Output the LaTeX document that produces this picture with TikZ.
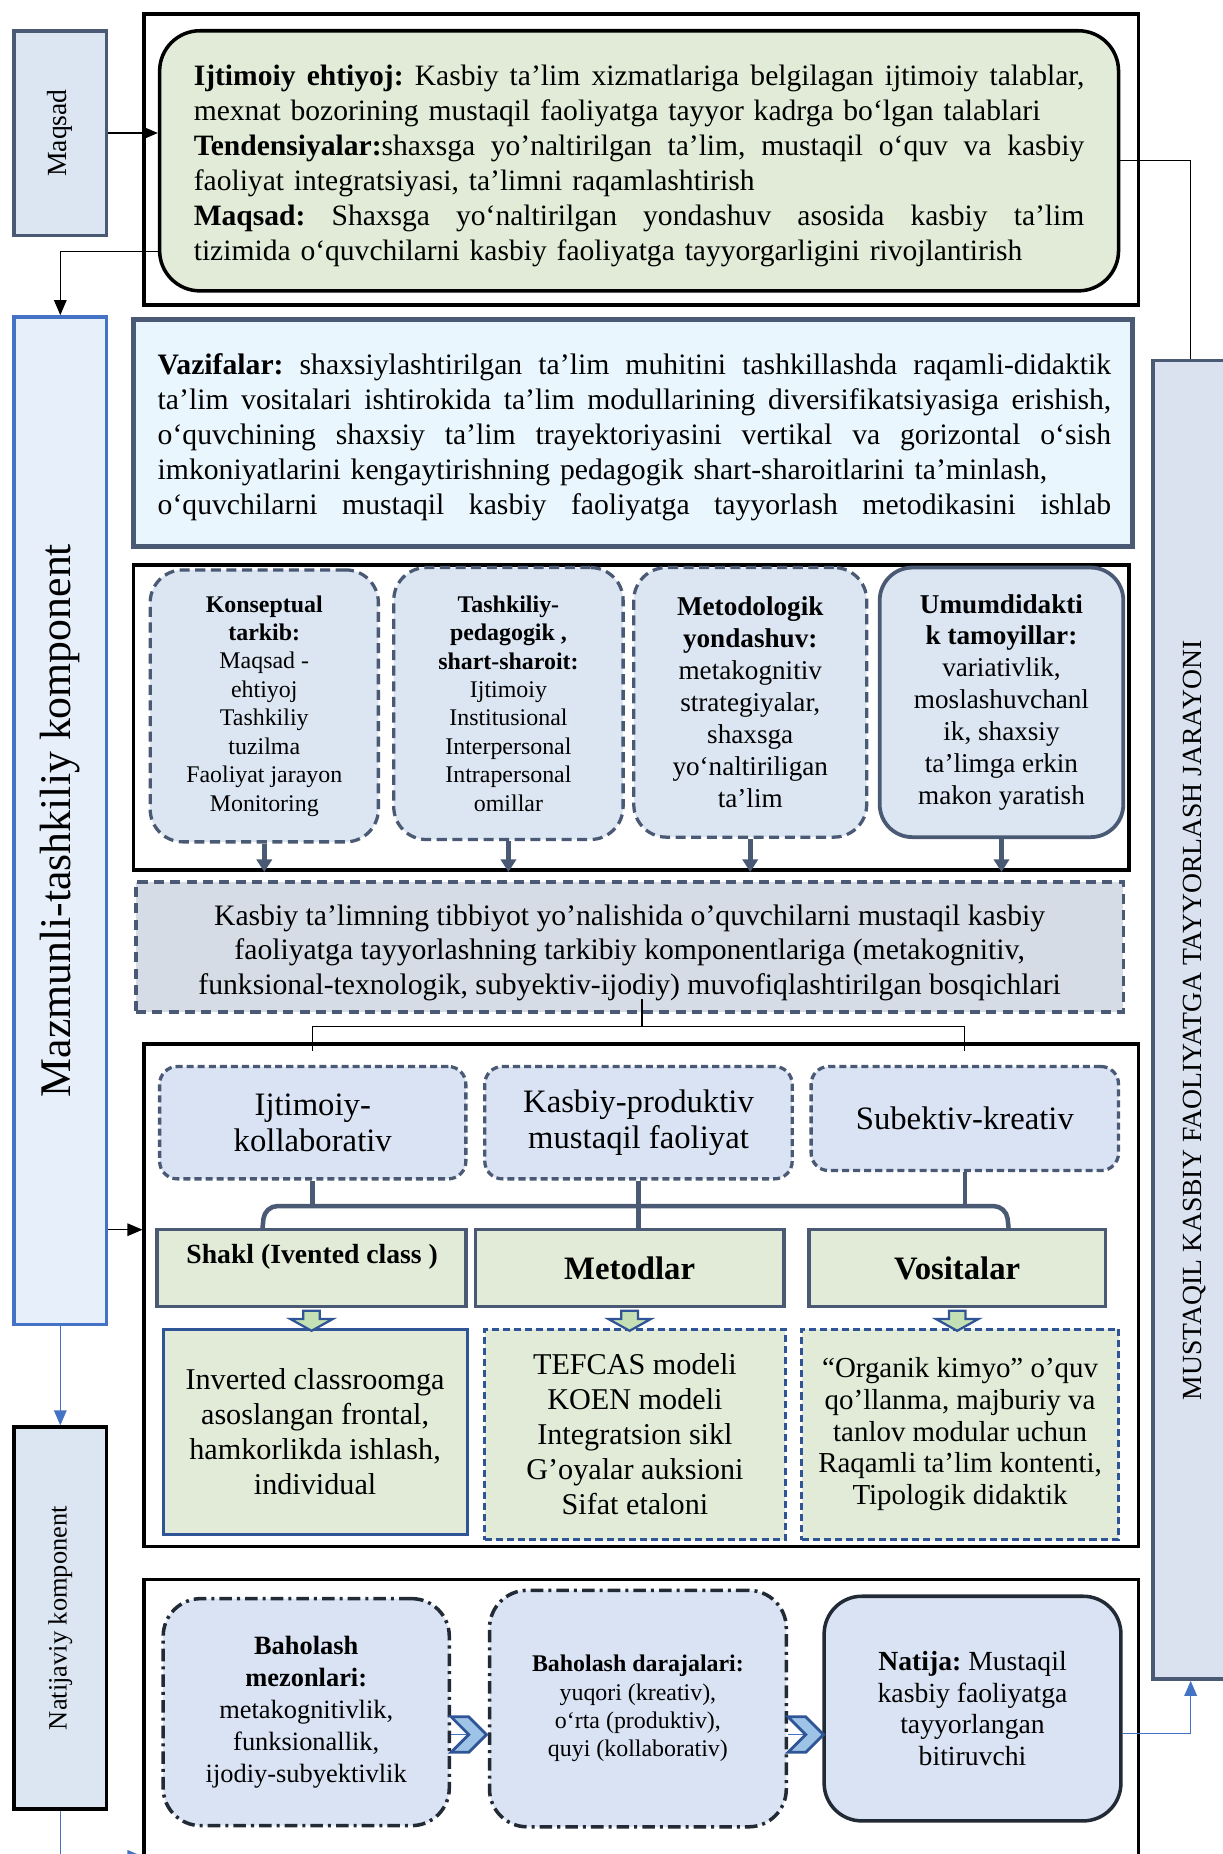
\documentclass[tikz,border=0pt]{standalone}
\usepackage{fontspec}
\setmainfont{Liberation Serif}
\usetikzlibrary{fit,calc,arrows.meta}
\definecolor{slate}{HTML}{4A5A74}
\definecolor{lightblue}{HTML}{DCE6F2}
\definecolor{mazfill}{HTML}{E7EFFB}
\definecolor{mazblue}{HTML}{4472C4}
\definecolor{musfill}{HTML}{DAE2F0}
\definecolor{vazfill}{HTML}{EAF6FD}
\definecolor{grayfill}{HTML}{D6DCE5}
\definecolor{rowfill}{HTML}{DAE3F3}
\definecolor{greenfill}{HTML}{E2EBD7}
\definecolor{dblue}{HTML}{2F5597}
\definecolor{dark}{HTML}{222A35}
\definecolor{arrowgreen}{HTML}{C5E0B4}
\definecolor{chevfill}{HTML}{9DC3E6}
\frenchspacing
\newcommand\setfs[2]{\fontsize{#1}{#2}\selectfont}
\newcommand\jl[2]{\leavevmode\hbox to #1{\spaceskip=0.25em plus 1fil\xspaceskip=0.25em plus 1fil\relax #2}}
\newcommand\darr[1]{\filldraw[barrow] (#1) ++(-7,2) -- ++(0,7) -- ++(-11,0) -- ++(18,10) -- ++(18,-10) -- ++(-11,0) -- ++(0,-7) -- cycle;}
\newcommand\chev[1]{\filldraw[chevron] (#1) ++(0,-15) -- ++(15,0) -- ++(15,15) -- ++(-15,15) -- ++(-15,0) -- ++(15,-15) -- cycle;}
\begin{document}
\begin{tikzpicture}[x=0.47pt,y=-0.47pt,
  outerbox/.style={draw=black,line width=1.4pt,inner sep=0pt},
  sidebox/.style={draw=slate,line width=1.4pt,fill=lightblue,inner sep=0pt},
  compbox/.style={draw=slate,line width=1.3pt,dash pattern=on 4pt off 2.2pt,fill=lightblue,rounded corners=13pt,inner sep=0pt},
  rowbox/.style={draw=slate,line width=1.3pt,dash pattern=on 2.8pt off 1.6pt,fill=rowfill,rounded corners=7pt,inner sep=0pt},
  formbox/.style={draw=slate,line width=1.4pt,fill=greenfill,inner sep=0pt},
  contbox/.style={draw=dblue,line width=1.2pt,dash pattern=on 2.8pt off 1.6pt,fill=greenfill,inner sep=0pt},
  evalbox/.style={draw=dark,line width=1.4pt,dash pattern=on 5pt off 2pt on 1.2pt off 2pt,fill=rowfill,rounded corners=15pt,inner sep=0pt},
  txt/.style={inner sep=0pt,align=center},
  stub/.style={draw=slate,line width=1.8pt,-{Triangle[length=5pt,width=6pt]}},
  bar/.style={draw=slate,line width=1.8pt},
  blk/.style={line width=0.5pt,-{Triangle[length=6pt,width=5pt]}},
  bluearr/.style={draw=mazblue,line width=0.6pt,-{Triangle[length=6pt,width=5pt]}},
  thinline/.style={line width=0.5pt},
  barrow/.style={draw=dblue,fill=arrowgreen,line width=0.9pt},
  chevron/.style={draw=dblue,fill=chevfill,line width=1.1pt}]
\useasboundingbox (0,0) rectangle (1034,1568);
\node[outerbox,fit={(122,12)(963,258)}] (f1) {};
\node[outerbox,fit={(113,478)(955,736)}] (f2) {};
\node[outerbox,fit={(122,883)(963,1308)}] (f3) {};
\node[outerbox,fit={(122,1336)(963,1572)}] (f4) {};
\node[sidebox,fit={(12,26)(90,199)}] (maq) {};
\node[rotate=90,font=\setfs{11}{13}] (maqt) at (maq) {Maqsad};
\node[sidebox,draw=mazblue,fill=mazfill,fit={(12,268)(90,1120)}] (maz) {};
\node[rotate=90,font=\setfs{17.4}{20}] (mazt) at (maz) {Mazmunli-tashkiliy komponent};
\node[sidebox,draw=black,fit={(12,1207)(90,1530)}] (nat) {};
\node[rotate=90,font=\setfs{10.5}{12}] (natt) at (nat) {Natijaviy komponent};
\node[sidebox,fill=musfill,fit={(975,305)(1039,1420)}] (mus) {};
\node[rotate=90,font=\setfs{11}{13}] (must) at (1010,863) {MUSTAQIL KASBIY FAOLIYATGA TAYYORLASH JARAYONI};
\node[draw,line width=1.4pt,rounded corners=16pt,fill=greenfill,inner sep=0pt,fit={(135,26)(946,246)}] (goal) {};
\node[inner sep=0pt,text width=354pt,align=left,font=\setfs{11.75}{13.9}] (goalt) at ([yshift=-1.9pt]goal) {%
\jl{354pt}{\textbf{Ijtimoiy ehtiyoj:} Kasbiy ta’lim xizmatlariga belgilagan ijtimoiy talablar,}\\
mexnat bozorining mustaqil faoliyatga tayyor kadrga bo‘lgan talablari\\
\jl{354pt}{\textbf{Tendensiyalar:}shaxsga yo’naltirilgan ta’lim, mustaqil o‘quv va kasbiy}\\
faoliyat integratsiyasi, ta’limni raqamlashtirish\\
\jl{354pt}{\textbf{Maqsad:} Shaxsga yo‘naltirilgan yondashuv asosida kasbiy ta’lim}\\
tizimida o‘quvchilarni kasbiy faoliyatga tayyorgarligini rivojlantirish};
\node[draw=slate,line width=2pt,fill=vazfill,inner sep=0pt,fit={(113,270)(958,462)}] (vaz) {};
\node[inner sep=0pt,text width=379pt,align=left,font=\setfs{11.8}{13.9}] (vazt) at ([xshift=0.5pt,yshift=-1.9pt]vaz) {%
\jl{379pt}{\textbf{Vazifalar:} shaxsiylashtirilgan ta’lim muhitini tashkillashda raqamli-didaktik}\\
\jl{379pt}{ta’lim vositalari ishtirokida ta’lim modullarining diversifikatsiyasiga erishish,}\\
\jl{379pt}{o‘quvchining shaxsiy ta’lim trayektoriyasini vertikal va gorizontal o‘sish}\\
imkoniyatlarini kengaytirishning pedagogik shart-sharoitlarini ta’minlash,\\
\jl{379pt}{o‘quvchilarni mustaqil kasbiy faoliyatga tayyorlash metodikasini ishlab}};
\node[compbox,fit={(127,482)(320,712)}] (k1) {};
\node[compbox,fit={(333,480)(527,710)}] (k2) {};
\node[compbox,fit={(536,480)(733,708)}] (k3) {};
\node[compbox,solid,line width=1.5pt,fit={(744,480)(950,708)}] (k4) {};
\node[txt,font=\setfs{9.5}{11.3}] (k1t) at (k1) {\textbf{Konseptual}\\\textbf{tarkib:}\\Maqsad -\\ehtiyoj\\Tashkiliy\\tuzilma\\Faoliyat jarayon\\Monitoring};
\node[txt,font=\setfs{9.5}{11.3}] (k2t) at (k2) {\textbf{Tashkiliy-}\\\textbf{pedagogik ,}\\\textbf{shart-sharoit:}\\Ijtimoiy\\Institusional\\Interpersonal\\Intrapersonal\\omillar};
\node[txt,font=\setfs{10.8}{12.7}] (k3t) at (k3) {\textbf{Metodologik}\\\textbf{yondashuv:}\\metakognitiv\\strategiyalar,\\shaxsga\\yo‘naltiriligan\\ta’lim};
\node[txt,font=\setfs{10.8}{12.7}] (k4t) at (k4) {\textbf{Umumdidakti}\\\textbf{k tamoyillar:}\\variativlik,\\moslashuvchanl\\ik, shaxsiy\\ta’limga erkin\\makon yaratish};
\foreach \k in {k1,k2,k3,k4} \draw[stub] (\k.south) -- (\k.south |- f2.south);
\node[draw=slate,line width=1.4pt,dash pattern=on 4pt off 2.5pt,fill=grayfill,inner sep=0pt,fit={(115,746)(950,856)}] (stage) {};
\node[txt,font=\setfs{11.8}{13.9}] (staget) at ([yshift=-2.3pt]stage) {Kasbiy ta’limning tibbiyot yo’nalishida o’quvchilarni mustaqil kasbiy\\faoliyatga tayyorlashning tarkibiy komponentlariga (metakognitiv,\\funksional-texnologik, subyektiv-ijodiy) muvofiqlashtirilgan bosqichlari};
\node[rowbox,fit={(135,902)(394,997)}] (ij) {};
\node[rowbox,fit={(410,902)(670,997)}] (kp) {};
\node[rowbox,fit={(686,902)(946,990)}] (sub) {};
\node[txt,font=\setfs{13}{14.6}] (ijt) at (ij) {Ijtimoiy-\\kollaborativ};
\node[txt,font=\setfs{13}{14.6}] (kpt) at (kp) {Kasbiy-produktiv\\mustaqil faoliyat};
\node[txt,font=\setfs{13}{14.6}] (subt) at (sub) {Subektiv-kreativ};
\coordinate (split) at (543,868);
\draw[thinline] ($(split |- stage.south)+(0,-13)$) -- (split);
\draw[thinline] ([yshift=5.6pt]ij.north) |- (split) -| ([yshift=5.6pt]sub.north);
\node[formbox,fit={(133,1040)(394,1105)}] (shakl) {};
\node[formbox,fit={(402,1040)(663,1105)}] (met) {};
\node[formbox,fit={(684,1040)(935,1105)}] (vos) {};
\node[txt,font=\bfseries\setfs{11}{12}] (shaklt) at (264,1063) {Shakl (Ivented class )};
\node[txt,font=\bfseries\setfs{13}{15}] (mett) at (met) {Metodlar};
\node[txt,font=\bfseries\setfs{13}{15}] (vost) at (vos) {Vositalar};
\draw[bar] (ij.south) -- (ij.south |- 0,1020);
\draw[bar] (sub.south) -- (sub.south |- 0,1020);
\draw[bar] (kp.south) -- (kp.south |- met.north);
\draw[bar,rounded corners=5pt] (shakl.north -| 222,0) -- (224,1020) -- (851,1020) -- (vos.north -| 853,0);
\node[contbox,solid,fit={(138,1124)(395,1298)}] (inv) {};
\node[contbox,fit={(410,1124)(664,1302)}] (tef) {};
\node[contbox,fit={(678,1124)(946,1302)}] (org) {};
\node[txt,font=\setfs{12}{13.9}] (invt) at (inv) {Inverted classroomga\\asoslangan frontal,\\hamkorlikda ishlash,\\individual};
\node[txt,font=\setfs{12}{13.9}] (teft) at (tef) {TEFCAS modeli\\KOEN modeli\\Integratsion sikl\\G’oyalar auksioni\\Sifat etaloni};
\node[txt,font=\setfs{11.5}{12.6}] (orgt) at (org) {“Organik kimyo” o’quv\\qo’llanma, majburiy va\\tanlov modular uchun\\Raqamli ta’lim kontenti,\\Tipologik didaktik};
\darr{shakl.south}
\darr{met.south}
\darr{vos.south}
\node[evalbox,fit={(138,1352)(380,1544)}] (mez) {};
\node[evalbox,fit={(414,1345)(665,1545)}] (dar) {};
\node[evalbox,solid,fit={(697,1350)(948,1540)}] (res) {};
\node[txt,font=\setfs{10.5}{12.7}] (mezt) at (mez) {\textbf{Baholash}\\\textbf{mezonlari:}\\metakognitivlik,\\funksionallik,\\ijodiy-subyektivlik};
\node[txt,font=\setfs{9.5}{11.3}] (dart) at (dar) {\textbf{Baholash darajalari:}\\yuqori (kreativ),\\o‘rta (produktiv),\\quyi (kollaborativ)};
\node[txt,font=\setfs{11}{12.5}] (rest) at (res) {\textbf{Natija:} Mustaqil\\kasbiy faoliyatga\\tayyorlangan\\bitiruvchi};
\draw[thinline,mazblue] (mez.east |- 0,1467) -- (dar.west |- 0,1467);
\draw[thinline,mazblue] (dar.east |- 0,1467) -- (res.west |- 0,1467);
\chev{mez.east |- 0,1467}
\chev{dar.east |- 0,1467}
\draw[blk] (maq.east) -- (maq.east -| goal.west);
\draw[blk] (goal.west |- 0,213) -| (maz.north);
\draw[thinline] (goal.east |- 0,136) -| (mus.north);
\draw[blk] (maz.east |- 0,1040) -- (f3.west |- 0,1040);
\draw[bluearr] (maz.south) -- (nat.north);
\draw[bluearr] (nat.south) |- (f4.west |- 0,1570);
\draw[bluearr] (res.east |- 0,1466) -| (mus.south);
\end{tikzpicture}
\end{document}
